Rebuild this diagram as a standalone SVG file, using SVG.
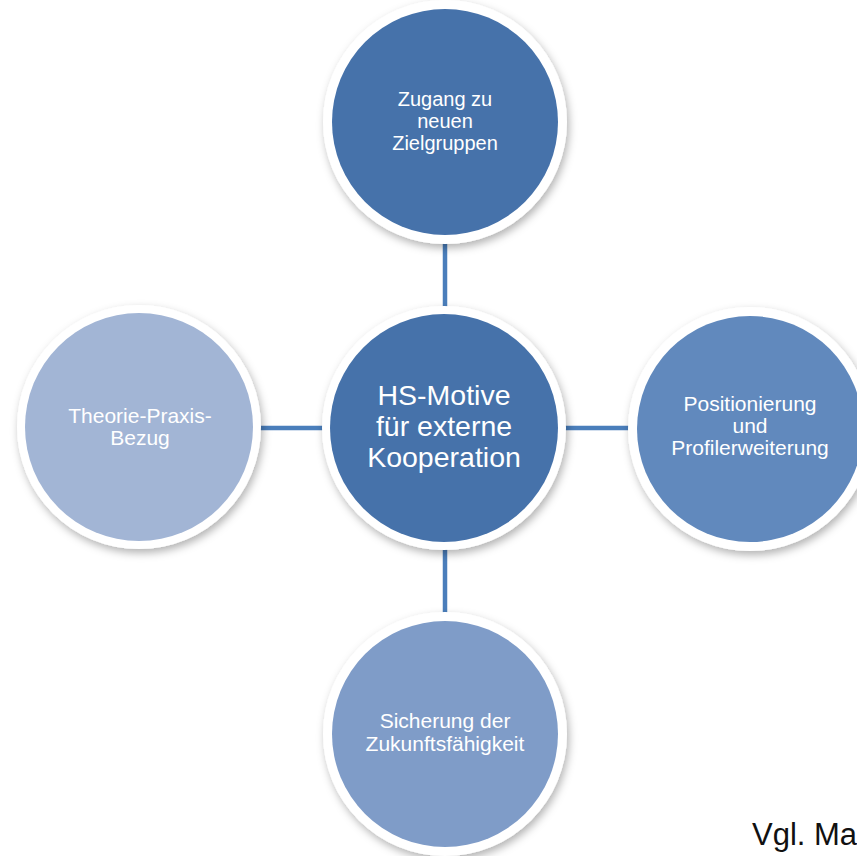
<svg xmlns="http://www.w3.org/2000/svg" width="857" height="856" viewBox="0 0 857 856">
<defs>
<filter id="sh" x="-20%" y="-20%" width="140%" height="140%">
<feDropShadow dx="2" dy="4" stdDeviation="4" flood-color="#000" flood-opacity="0.3"/>
</filter>
<style>
.ring{fill:#ffffff;filter:url(#sh);}
.lbl{font-family:"Liberation Sans",Arial,sans-serif;fill:#ffffff;text-anchor:middle;}
.conn{stroke:#4a7ebb;stroke-width:4.5;fill:none;}
</style>
</defs>
<rect width="857" height="856" fill="#ffffff"/>
<g id="connectors">
<line class="conn" x1="445" y1="238" x2="445" y2="312"/>
<line class="conn" x1="445" y1="544" x2="445" y2="618"/>
<line class="conn" x1="254" y1="428" x2="328" y2="428"/>
<line class="conn" x1="560" y1="428" x2="634" y2="428"/>
</g>
<g id="node-top">
<circle class="ring" cx="445" cy="122" r="122"/>
<circle cx="445" cy="122" r="113" fill="#4672aa"/>
<text class="lbl" font-size="20" x="445"><tspan x="445" y="106">Zugang zu</tspan><tspan x="445" y="128">neuen</tspan><tspan x="445" y="150">Zielgruppen</tspan></text>
</g>
<g id="node-left">
<circle class="ring" cx="139" cy="427" r="122"/>
<circle cx="139" cy="427" r="114" fill="#a2b5d5"/>
<text class="lbl" font-size="21" x="140"><tspan x="140" y="423">Theorie-Praxis-</tspan><tspan x="140" y="445">Bezug</tspan></text>
</g>
<g id="node-right">
<circle class="ring" cx="750" cy="429" r="122"/>
<circle cx="750" cy="429" r="113" fill="#6189bd"/>
<text class="lbl" font-size="21" x="750"><tspan x="750" y="411">Positionierung</tspan><tspan x="750" y="433">und</tspan><tspan x="750" y="455">Profilerweiterung</tspan></text>
</g>
<g id="node-bottom">
<circle class="ring" cx="445" cy="734" r="122"/>
<circle cx="445" cy="734" r="113" fill="#7f9cc8"/>
<text class="lbl" font-size="21" x="445"><tspan x="445" y="728">Sicherung der</tspan><tspan x="445" y="751">Zukunftsfähigkeit</tspan></text>
</g>
<g id="node-center">
<circle class="ring" cx="444" cy="428" r="122"/>
<circle cx="444" cy="428" r="114" fill="#4672aa"/>
<text class="lbl" font-size="28.5" x="444"><tspan x="444" y="405">HS-Motive</tspan><tspan x="444" y="436">für externe</tspan><tspan x="444" y="467">Kooperation</tspan></text>
</g>
<text x="752" y="845" font-family="'Liberation Sans',Arial,sans-serif" font-size="31" fill="#111111">Vgl. Ma</text>
</svg>
